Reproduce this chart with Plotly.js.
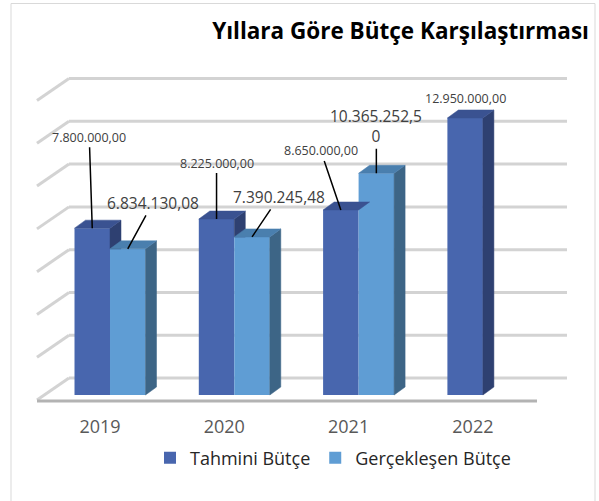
<!DOCTYPE html>
<html><head><meta charset="utf-8">
<script src="https://cdn.plot.ly/plotly-3.0.1.min.js"></script>
<style>html,body{margin:0;padding:0;background:#fff}</style>
</head><body><div id="chart" style="width:599px;height:501px"></div>
<script>
// ---------- data ----------
const years = ['2019', '2020', '2021', '2022'];
const tahmini = [7800000, 8225000, 8650000, 12950000];
const gerceklesen = [6834130.08, 7390245.48, 10365252.50, null];
const seriesNames = ['Tahmini Bütçe', 'Gerçekleşen Bütçe'];
const gridTicks = [0, 2000000, 4000000, 6000000, 8000000, 10000000, 12000000, 14000000];

// ---------- geometry / style ----------
const W = 599, H = 501, M = {l: 20, r: 9, t: 60, b: 91};
const xRange = [-0.7241, 3.8616], yRange = [-701000, 15661000];
const pw = W - M.l - M.r, ph = H - M.t - M.b;
const ux = px => px * (xRange[1] - xRange[0]) / pw;
const uy = px => px * (yRange[1] - yRange[0]) / ph;
const xOf = px => xRange[0] + ux(px - M.l);
const barW = ux(35.5);
const dX = ux(11), dY = uy(8);
const FONT = 'Open Sans, DejaVu Sans, sans-serif';

const colors = [
  {front: '#4866ae', top: '#3a5291', side: '#2e4071'},
  {front: '#5f9dd4', top: '#4a7fae', side: '#3d6586'}
];
const labelStyle = [{size: 12.5}, {size: 15.5, wrap: 12}];
const labelPos = [
  [{ax: -3, ay: -91}, {ax: 25, ay: -46}],
  [{ax: 0, ay: -56}, {ax: 27, ay: -40}],
  [{ax: -20, ay: -59}, {ax: 0, ay: -47}],
  [{ax: 0, ay: -19, noArrow: true}, null]
];

function fmt(v) {
  const parts = v.toFixed(2).split('.');
  return parts[0].replace(/\B(?=(\d{3})+(?!\d))/g, '.') + ',' + parts[1];
}

const series = [tahmini, gerceklesen];
const offsets = [-barW, 0];
const traces = [];

// front faces (bars)
series.forEach((vals, s) => {
  traces.push({
    type: 'bar', name: seriesNames[s], x: years.map((_, i) => i), y: vals,
    width: barW, offset: offsets[s],
    marker: {color: colors[s].front, line: {width: 0}},
    hoverinfo: 'skip'
  });
});

function poly(xs, ys, color) {
  traces.push({
    type: 'scatter', mode: 'lines', x: xs.concat([xs[0]]), y: ys.concat([ys[0]]),
    fill: 'toself', fillcolor: color, line: {color: color, width: 0.5},
    showlegend: false, hoverinfo: 'skip'
  });
}

// top and side faces
years.forEach((_, i) => {
  series.forEach((vals, s) => {
    const v = vals[i];
    if (v == null) return;
    const xl = i + offsets[s], xr = xl + barW;
    let bottom = 0;
    if (s === 0 && gerceklesen[i] != null) bottom = gerceklesen[i];
    if (v > bottom) {
      poly([xr, xr, xr + dX, xr + dX], [bottom, v, v + dY, bottom + (bottom === 0 ? dY : 0)], colors[s].side);
    }
    poly([xl, xl + dX, xr + dX, xr], [v, v + dY, v + dY, v], colors[s].top);
  });
});

// gridlines on back & side walls
const shapes = [];
const wallDY = uy(17), sideDY = uy(22);
gridTicks.forEach(t => {
  const yb = t + wallDY;
  shapes.push({type: 'line', layer: 'below', xref: 'x', yref: 'y', x0: xOf(69), x1: xOf(567), y0: yb, y1: yb,
    line: {color: '#d3d3d3', width: 3}});
  shapes.push({type: 'line', layer: 'below', xref: 'x', yref: 'y', x0: xOf(69), x1: xOf(37), y0: yb, y1: yb - sideDY,
    line: {color: '#d3d3d3', width: 3}});
});
// floor front edge
shapes.push({type: 'line', layer: 'below', xref: 'x', yref: 'y', x0: xOf(37), x1: xOf(537), y0: -uy(6), y1: -uy(6),
  line: {color: '#b3b3b3', width: 3}});
// chart border
shapes.push({type: 'rect', xref: 'paper', yref: 'paper', x0: (11 - M.l) / pw, x1: (595 - M.l) / pw,
  y0: -(530 - (H - M.b)) / ph, y1: ((H - M.b) - 3.5) / ph, line: {color: '#d9d9d9', width: 1}, fillcolor: 'rgba(0,0,0,0)'});

// data labels
const annotations = [];
years.forEach((_, i) => {
  series.forEach((vals, s) => {
    const v = vals[i];
    const p = labelPos[i][s];
    if (v == null || !p) return;
    let txt = fmt(v);
    if (labelStyle[s].wrap && txt.length > labelStyle[s].wrap) txt = txt.slice(0, labelStyle[s].wrap) + '<br>' + txt.slice(labelStyle[s].wrap);
    const x = i + offsets[s] + barW / 2;
    if (p.noArrow) {
      annotations.push({x: x, y: v, text: txt, showarrow: false, yshift: -p.ay, xshift: p.ax,
        font: {family: FONT, size: labelStyle[s].size, color: '#404040'}});
    } else {
      annotations.push({x: x, y: v, text: txt, showarrow: true, arrowhead: 0, arrowwidth: 1.5, arrowcolor: '#000',
        standoff: 0, ax: p.ax, ay: p.ay,
        font: {family: FONT, size: labelStyle[s].size, color: '#404040'}});
    }
  });
});

const layout = {
  width: W, height: H, margin: M, paper_bgcolor: '#fff', plot_bgcolor: 'rgba(0,0,0,0)',
  title: {text: 'Yıllara Göre Bütçe Karşılaştırması', xref: 'container', yref: 'container',
    x: 589 / W, xanchor: 'right', y: 1 - 31 / H, yanchor: 'middle',
    font: {family: FONT, size: 22.5, weight: 700, color: '#000'}},
  barmode: 'overlay',
  xaxis: {range: xRange, tickvals: years.map((_, i) => i - ux(10)), ticktext: years,
    showgrid: false, zeroline: false, showline: false, ticks: '', fixedrange: true, ticklabelstandoff: 4,
    tickfont: {family: FONT, size: 18, color: '#595959'}},
  yaxis: {range: yRange, visible: false, showgrid: false, zeroline: false, fixedrange: true},
  showlegend: true,
  legend: {orientation: 'h', xref: 'container', yref: 'container', x: 150 / W, y: 1 - 458 / H,
    xanchor: 'left', yanchor: 'middle', font: {family: FONT, size: 18, color: '#262626'}, traceorder: 'normal'},
  shapes: shapes, annotations: annotations
};

Plotly.newPlot('chart', traces, layout, {displayModeBar: false, staticPlot: true});
</script></body></html>
